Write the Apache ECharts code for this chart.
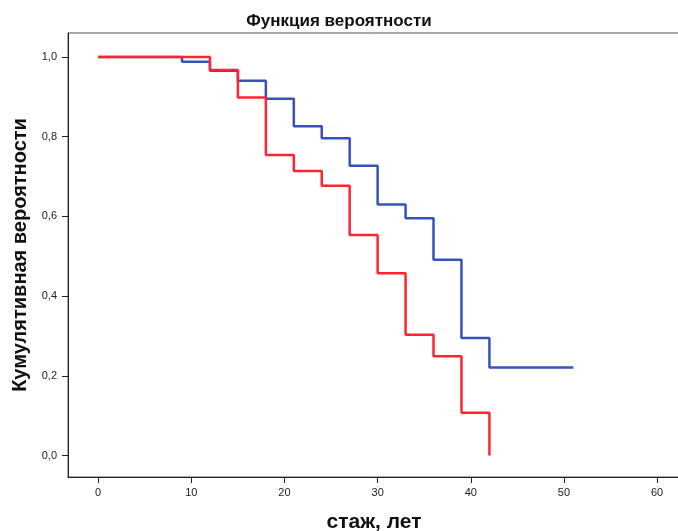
<!DOCTYPE html>
<html>
<head>
<meta charset="utf-8">
<script src="https://cdn.jsdelivr.net/npm/echarts@6/dist/echarts.min.js"></script>
<style>
  html, body { margin: 0; padding: 0; background: #fff; }
  #chart { width: 678px; height: 531px; }
</style>
</head>
<body>
<div id="chart"></div>
<script>
// survival steps
const blueTimes = [0, 9, 12, 15, 18, 21, 24, 27, 30, 33, 36, 39, 42, 51]
const blueSurv = [1.0, 0.988, 0.965, 0.94, 0.895, 0.826, 0.796, 0.727, 0.63, 0.595, 0.491, 0.295, 0.221, 0.221]
const redTimes = [0, 12, 15, 18, 21, 24, 27, 30, 33, 36, 39, 42]
const redSurv = [1.0, 0.967, 0.898, 0.754, 0.714, 0.677, 0.553, 0.457, 0.303, 0.249, 0.107, 0.0]

const xTicks = [0, 10, 20, 30, 40, 50, 60]
const yTicks = [0, 0.2, 0.4, 0.6, 0.8, 1.0]

const titleText = 'Функция вероятности'
const xName = 'стаж, лет'
const yName = 'Кумулятивная вероятности'

function pairs(xs, ys) {
  return xs.map((x, i) => [x, ys[i]])
}

const chart = echarts.init(document.getElementById('chart'))

const labelFont = {
  color: '#222',
  fontSize: 11,
  fontFamily: 'Liberation Sans, Arial, sans-serif'
}

chart.setOption({
  animation: false,
  title: {
    text: titleText,
    left: 'center',
    top: 8,
    textStyle: {
      fontSize: 17,
      fontWeight: 'bold',
      color: '#111',
      fontFamily: 'Liberation Sans, Arial, sans-serif'
    }
  },
  grid: {
    left: 68,
    top: 33,
    right: -2,
    bottom: 54,
    outerBoundsMode: 'none',
    containLabel: false,
    show: true,
    borderColor: '#555',
    borderWidth: 1
  },
  xAxis: {
    type: 'value',
    min: -3.24,
    max: 62.46,
    name: xName,
    nameLocation: 'middle',
    nameGap: 35,
    nameTextStyle: {
      fontSize: 21,
      fontWeight: 'bold',
      color: '#111',
      fontFamily: 'Liberation Sans, Arial, sans-serif'
    },
    axisLine: { show: true, onZero: false, lineStyle: { color: '#222', width: 1 } },
    axisTick: { show: true, inside: false, length: 6, customValues: xTicks, lineStyle: { color: '#222' } },
    axisLabel: Object.assign({ customValues: xTicks, margin: 10 }, labelFont),
    splitLine: { show: false }
  },
  yAxis: {
    type: 'value',
    min: -0.054,
    max: 1.06,
    name: yName,
    nameLocation: 'middle',
    nameRotate: 90,
    nameGap: 34,
    nameTextStyle: {
      fontSize: 20,
      fontWeight: 'bold',
      color: '#111',
      fontFamily: 'Liberation Sans, Arial, sans-serif'
    },
    axisLine: { show: true, onZero: false, lineStyle: { color: '#222', width: 1 } },
    axisTick: { show: true, inside: false, length: 6, customValues: yTicks, lineStyle: { color: '#222', width: 1 } },
    axisLabel: Object.assign({
      customValues: yTicks,
      margin: 11,
      formatter: v => v.toFixed(1).replace('.', ',')
    }, labelFont),
    splitLine: { show: false }
  },
  series: [
    {
      type: 'line',
      step: 'end',
      data: pairs(blueTimes, blueSurv),
      showSymbol: false,
      lineStyle: { color: '#3852BC', width: 2.5 }
    },
    {
      type: 'line',
      step: 'end',
      data: pairs(redTimes, redSurv),
      showSymbol: false,
      lineStyle: { color: '#FF2530', width: 2.5 }
    }
  ]
})
</script>
</body>
</html>
